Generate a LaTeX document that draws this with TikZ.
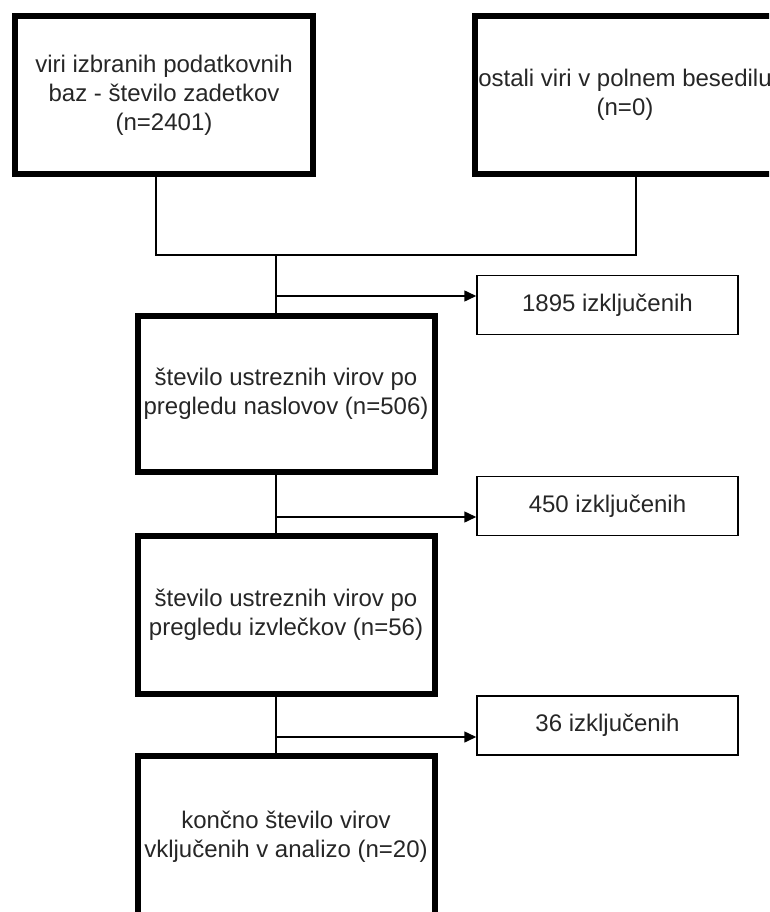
\documentclass[tikz,border=0pt]{standalone}
\usepackage{fontspec}
\setmainfont{Liberation Sans}
\usetikzlibrary{arrows.meta, positioning}

\begin{document}
\begin{tikzpicture}[x=1pt, y=-1pt]
\tikzstyle{stage} = [rectangle, draw, line width=6pt, minimum width=297pt, minimum height=158pt, align=center, font=\fontsize{24}{29}\selectfont, text=black!85]
\tikzstyle{excluded} = [rectangle, draw, line width=1.5pt, minimum width=261pt, minimum height=59pt, align=center, font=\fontsize{24}{29}\selectfont, text=black!85]
\tikzstyle{link} = [draw, line width=1.5pt]
\tikzstyle{arrow} = [link, -{Triangle[length=12pt, width=11pt]}]

\path[use as bounding box, clip] (0,0) rectangle (769,912);

\node (databases) [stage, minimum width=298pt] at (164,95) {viri izbranih podatkovnih\\baz - število zadetkov\\(n=2401)};
\node (fulltext) [stage, minimum width=296pt] at (625,95) {ostali viri v polnem besedilu\\(n=0)};
\node (titles) [stage, minimum height=156pt] at (286,394) {število ustreznih virov po\\pregledu naslovov (n=506)};
\node (abstracts) [stage] at (286,615) {število ustreznih virov po\\pregledu izvlečkov (n=56)};
\node (final) [stage, minimum height=162pt] at (286,837) {končno število virov\\vključenih v analizo (n=20)};

\node (out1) [excluded] at (607.5,305) {1895 izključenih};
\node (out2) [excluded] at (607.5,506) {450 izključenih};
\node (out3) [excluded] at (607.5,725.5) {36 izključenih};

\coordinate (join) at (276,255);
\coordinate (cut1) at (276,296);
\coordinate (cut2) at (276,517);
\coordinate (cut3) at (276,737);

\draw[link] ([xshift=-8pt]databases.south) |- (join);
\draw[link] ([xshift=11pt]fulltext.south) |- (join);
\draw[link] (join) -- (join |- titles.north);
\draw[link] (join |- titles.south) -- (join |- abstracts.north);
\draw[link] (join |- abstracts.south) -- (join |- final.north);

\draw[arrow] (cut1) -- (cut1 -| out1.west);
\draw[arrow] (cut2) -- (cut2 -| out2.west);
\draw[arrow] (cut3) -- (cut3 -| out3.west);

\end{tikzpicture}
\end{document}
